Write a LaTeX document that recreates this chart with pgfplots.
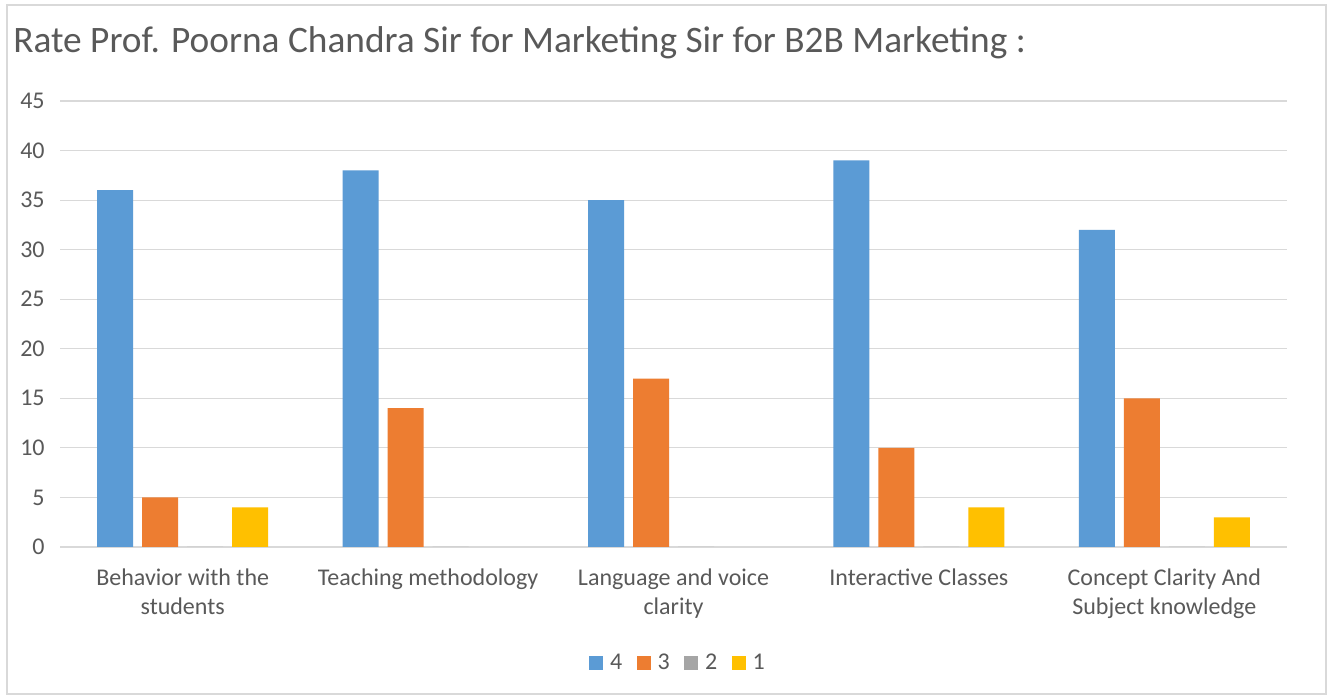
\documentclass[border=0pt]{standalone}
\usepackage{pgfplots}
\pgfplotsset{compat=1.18}
\usepackage{fontspec}
\setmainfont{Carlito}
\definecolor{cblue}{HTML}{5B9BD5}
\definecolor{corange}{HTML}{ED7D31}
\definecolor{cgray}{HTML}{A5A5A5}
\definecolor{cyellow}{HTML}{FFC000}
\definecolor{ctext}{HTML}{595959}
\definecolor{cgrid}{HTML}{D9D9D9}
\begin{document}
\begin{tikzpicture}
\path[fill=white] (0,0) rectangle ({1331*0.75pt},{698*0.75pt});
\draw[color=cgrid, line width=0.9pt] ({7*0.75pt},{4*0.75pt}) rectangle ({1326*0.75pt},{693*0.75pt});
\node[anchor=base west, text=ctext, font=\fontsize{28}{32}\selectfont, inner sep=0pt] at ({13*0.75pt},{(698-53)*0.75pt}) {Rate Prof. Poorna Chandra Sir for Marketing Sir for B2B Marketing :};
\begin{axis}[
  at={({60*0.75pt},{(698-547)*0.75pt})}, anchor=south west,
  scale only axis, width={1227*0.75pt}, height={446*0.75pt},
  ybar, bar width=27pt, ybar=6.75pt,
  xmin=-0.5, xmax=4.5, ymin=0, ymax=45,
  ytick={0,5,...,45},
  xtick={0,1,2,3,4},
  xticklabels={{Behavior with the\\students},{Teaching methodology},{Language and voice\\clarity},{Interactive Classes},{Concept Clarity And\\Subject knowledge}},
  xticklabel style={align=center, font=\fontsize{18}{21.75}\selectfont, text=ctext, anchor=north, yshift=-13pt},
  yticklabel style={font=\fontsize{18}{21}\selectfont, text=ctext, xshift=-8pt},
  /pgf/number format/assume math mode=true,
  major tick length=0pt,
  ymajorgrids, grid style={cgrid, line width=0.9pt},
  axis line style={draw=none},
  legend columns=4,
  legend style={at={(0.504,-0.259)}, anchor=center, draw=none, font=\fontsize{18}{21}\selectfont, text=ctext, column sep=0pt,
    /tikz/every odd column/.append style={column sep=3pt},
    /tikz/every even column/.append style={column sep=9pt}},
  legend image code/.code={\fill[#1] (0pt,-5.25pt) rectangle (10.5pt,5.25pt);},
]
\addplot[fill=cblue, draw=none] coordinates {(0,36) (1,38) (2,35) (3,39) (4,32)};
\addplot[fill=corange, draw=none] coordinates {(0,5) (1,14) (2,17) (3,10) (4,15)};
\addplot[fill=cgray, draw=none] coordinates {(0,0) (1,0) (2,0) (3,0) (4,0)};
\addplot[fill=cyellow, draw=none] coordinates {(0,4) (3,4) (4,3)};
\legend{4,3,2,1}
\end{axis}
\end{tikzpicture}
\end{document}
